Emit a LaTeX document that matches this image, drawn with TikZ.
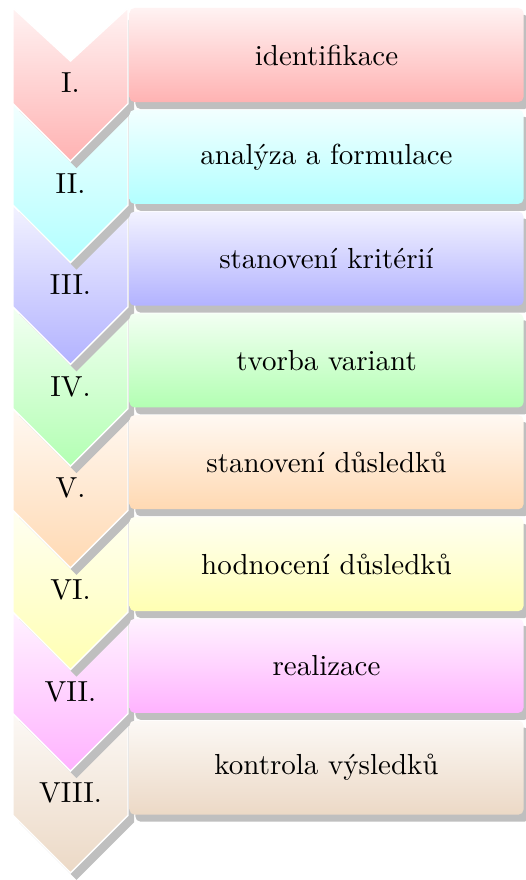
\documentclass[tikz,border=0pt]{standalone}
\usepackage{fontspec}
\usetikzlibrary{shadows}
\begin{document}
\begin{tikzpicture}[x=0.352pt,y=-0.352pt,font=\fontsize{10.2pt}{12pt}\selectfont]
\tikzset{
  chev/.style={draw=white,line width=0.5pt,top color=#1!5,bottom color=#1!30},
  shadowc/.style={fill=black!25},
  stepbox/.style={rectangle,rounded corners=1.76pt,inner sep=0pt,
    minimum width=138.7pt,minimum height=33.1pt,
    top color=#1!5,bottom color=#1!30,
    drop shadow={fill=black!25,opacity=1,shadow xshift=2.1pt,shadow yshift=-2.46pt}},
  numlab/.style={text=black,inner sep=0pt}
}
\useasboundingbox (0,0) rectangle (526,880);
\foreach \k/\c/\r in {7/brown/VIII.,6/magenta/VII.,5/yellow/VI.,4/orange/V.,3/green/IV.,2/blue/III.,1/cyan/II.,0/red/I.}{
  \pgfmathsetmacro{\S}{103.5+101.7*\k}
  \pgfmathsetmacro{\T}{\k==0 ? 8 : \S-101.7}
  \pgfmathsetmacro{\N}{\k==0 ? 61 : \T+57.5}
  \pgfmathsetmacro{\B}{\S+57.5}
  \pgfmathsetmacro{\L}{(\N+\S)/2}
  \fill[shadowc,shift={(6,7)}] (13,\T) -- (70.5,\N) -- (128,\T) -- (128,\S) -- (70.5,\B) -- (13,\S) -- cycle;
  \path[chev=\c] (13,\T) -- (70.5,\N) -- (128,\T) -- (128,\S) -- (70.5,\B) -- (13,\S) -- cycle;
  \node[numlab] (n\k) at (70.5,\L) {\r};
}
\foreach \k/\c/\t in {0/red/identifikace,1/cyan/analýza a formulace,2/blue/stanovení kritérií,3/green/tvorba variant,4/orange/stanovení důsledků,5/yellow/hodnocení důsledků,6/magenta/realizace,7/brown/kontrola výsledků}{
  \pgfmathsetmacro{\Y}{55+101.8*\k}
  \node[stepbox=\c] (b\k) at (326.5,\Y) {\t};
}
\end{tikzpicture}
\end{document}
